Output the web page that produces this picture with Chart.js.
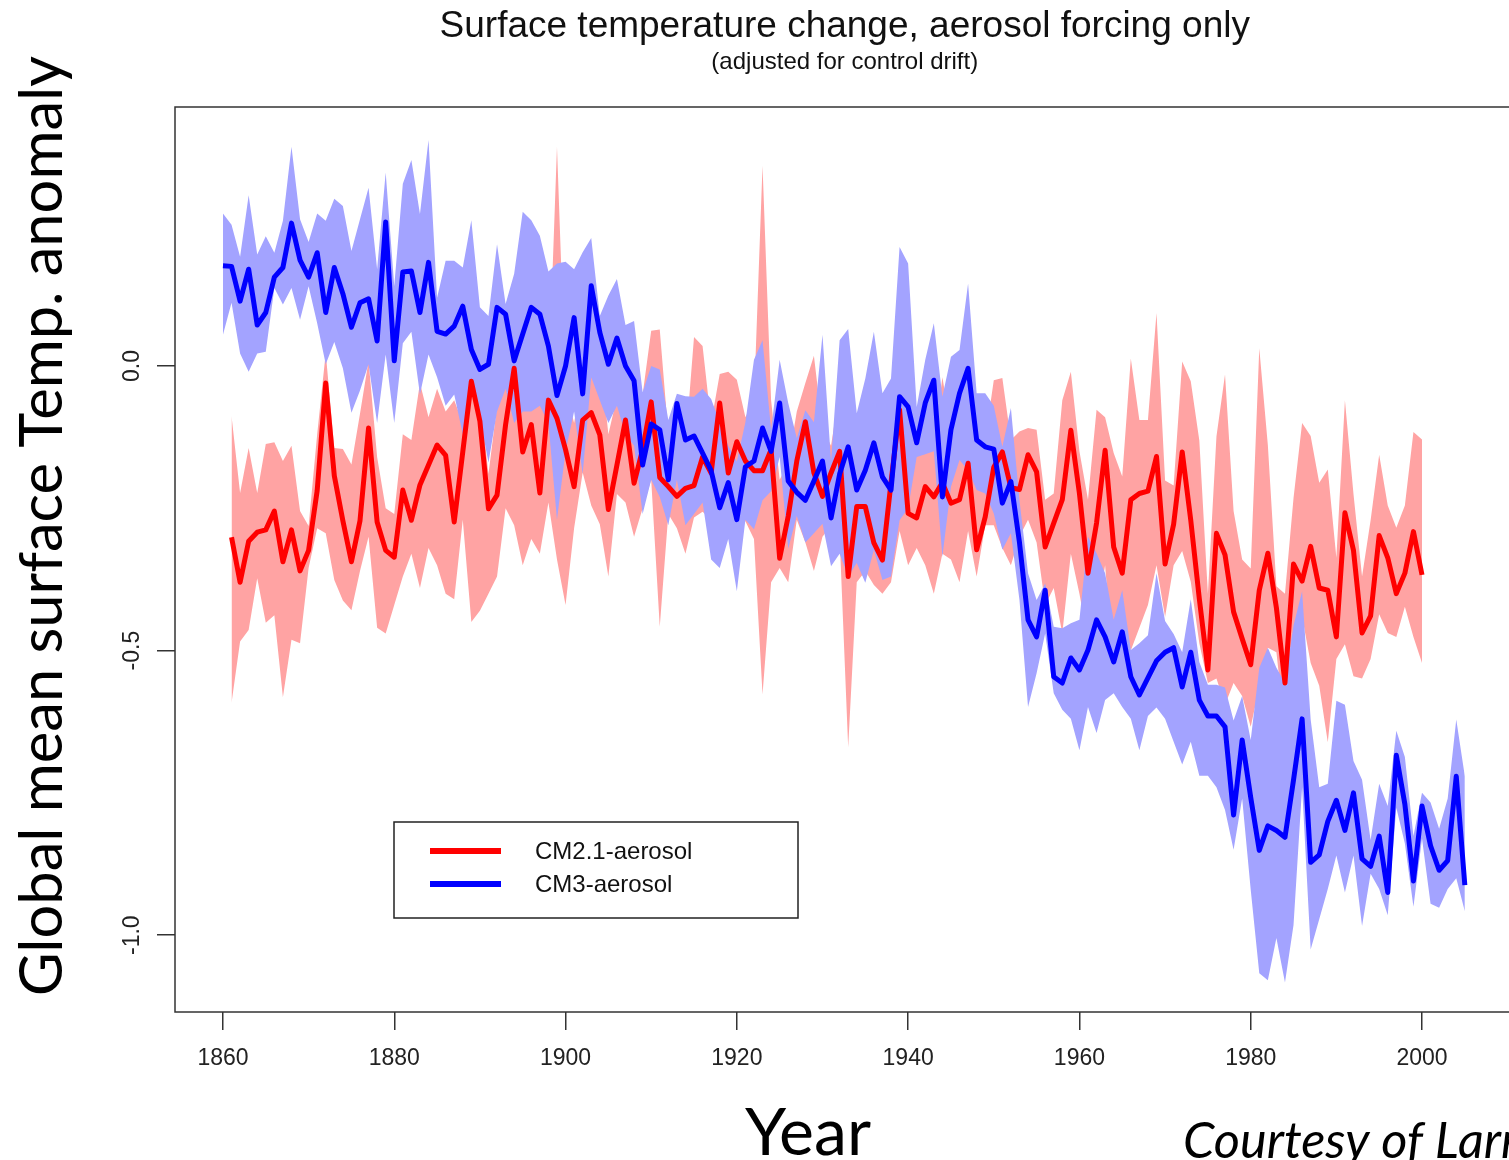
<!DOCTYPE html>
<html>
<head>
<meta charset="utf-8">
<title>Surface temperature change, aerosol forcing only</title>
<script src="https://cdn.jsdelivr.net/npm/chart.js@4.4.1/dist/chart.umd.min.js"></script>
<style>
  html, body { margin: 0; padding: 0; background: #ffffff; overflow: hidden; }
  canvas { display: block; }
</style>
</head>
<body>
<canvas id="chart" width="1530" height="1160"></canvas>
<script>
// ---- Data: global mean surface temperature anomaly, aerosol forcing only ----
// CM3-aerosol ensemble (1860-2005): mean and ensemble envelope
const cm3StartYear = 1860;
const cm3Mean = [
  0.176, 0.175, 0.114, 0.170, 0.072, 0.094, 0.156, 0.173, 0.251, 0.186,
  0.156, 0.199, 0.094, 0.173, 0.127, 0.068, 0.111, 0.118, 0.044, 0.253,
  0.009, 0.165, 0.167, 0.094, 0.182, 0.061, 0.056, 0.070, 0.105, 0.029,
  -0.006, 0.003, 0.103, 0.091, 0.009, 0.056, 0.103, 0.091, 0.035, -0.052,
  0.000, 0.085, -0.049, 0.141, 0.059, 0.003, 0.049, 0.000, -0.026, -0.174,
  -0.102, -0.112, -0.200, -0.066, -0.130, -0.123, -0.153, -0.184, -0.249, -0.205,
  -0.270, -0.177, -0.167, -0.109, -0.150, -0.065, -0.202, -0.222, -0.236, -0.202,
  -0.167, -0.267, -0.190, -0.142, -0.218, -0.183, -0.135, -0.195, -0.218, -0.054,
  -0.072, -0.135, -0.065, -0.025, -0.230, -0.112, -0.048, -0.004, -0.130, -0.142,
  -0.146, -0.241, -0.203, -0.310, -0.446, -0.476, -0.394, -0.546, -0.557, -0.513,
  -0.534, -0.499, -0.446, -0.476, -0.520, -0.467, -0.546, -0.578, -0.548, -0.518,
  -0.503, -0.495, -0.564, -0.503, -0.587, -0.615, -0.615, -0.634, -0.789, -0.657,
  -0.758, -0.851, -0.808, -0.816, -0.828, -0.727, -0.620, -0.872, -0.859, -0.800,
  -0.763, -0.816, -0.750, -0.866, -0.879, -0.826, -0.925, -0.684, -0.770, -0.905,
  -0.773, -0.843, -0.886, -0.869, -0.721, -0.912
];
const cm3Upper = [
  0.268, 0.248, 0.192, 0.300, 0.196, 0.228, 0.199, 0.255, 0.385, 0.258,
  0.218, 0.268, 0.255, 0.294, 0.281, 0.202, 0.258, 0.313, 0.170, 0.340,
  0.140, 0.320, 0.362, 0.267, 0.397, 0.120, 0.185, 0.185, 0.173, 0.256,
  0.103, 0.088, 0.214, 0.109, 0.162, 0.271, 0.256, 0.229, 0.166, 0.180,
  0.183, 0.170, 0.200, 0.225, 0.088, 0.124, 0.153, 0.072, 0.079, -0.046,
  0.000, -0.006, -0.095, -0.049, -0.053, -0.054, -0.040, -0.058, -0.099, -0.140,
  -0.168, -0.099, 0.011, 0.045, -0.112, 0.011, -0.065, -0.127, -0.078, -0.099,
  0.055, -0.168, 0.045, 0.065, -0.083, -0.022, 0.060, -0.048, -0.022, 0.209,
  0.180, -0.072, 0.011, 0.075, -0.054, 0.016, 0.028, 0.145, -0.048, -0.048,
  -0.070, -0.142, -0.074, -0.236, -0.364, -0.411, -0.382, -0.458, -0.461, -0.452,
  -0.446, -0.300, -0.329, -0.364, -0.446, -0.394, -0.499, -0.487, -0.473, -0.364,
  -0.448, -0.471, -0.503, -0.410, -0.520, -0.560, -0.560, -0.565, -0.623, -0.580,
  -0.657, -0.530, -0.495, -0.530, -0.557, -0.456, -0.396, -0.621, -0.740, -0.734,
  -0.588, -0.595, -0.694, -0.727, -0.833, -0.734, -0.773, -0.641, -0.687, -0.826,
  -0.750, -0.767, -0.813, -0.760, -0.621, -0.721
];
const cm3Lower = [
  0.055, 0.111, 0.022, -0.010, 0.022, 0.025, 0.137, 0.108, 0.137, 0.081,
  0.140, 0.075, 0.003, 0.042, -0.004, -0.082, -0.043, 0.003, -0.100, 0.020,
  -0.100, 0.040, 0.060, -0.050, 0.020, -0.020, -0.070, -0.050, -0.120, -0.030,
  -0.090, -0.170, -0.080, -0.040, -0.100, -0.080, -0.080, -0.070, -0.100, -0.270,
  -0.150, -0.080, -0.190, -0.020, -0.060, -0.100, -0.070, -0.120, -0.140, -0.260,
  -0.200, -0.230, -0.280, -0.200, -0.280, -0.260, -0.240, -0.340, -0.355, -0.304,
  -0.396, -0.270, -0.287, -0.236, -0.220, -0.160, -0.321, -0.263, -0.310, -0.294,
  -0.277, -0.352, -0.330, -0.370, -0.346, -0.381, -0.323, -0.376, -0.370, -0.271,
  -0.250, -0.160, -0.155, -0.150, -0.335, -0.212, -0.165, -0.183, -0.218, -0.224,
  -0.259, -0.323, -0.294, -0.411, -0.599, -0.540, -0.470, -0.575, -0.604, -0.620,
  -0.675, -0.599, -0.645, -0.587, -0.575, -0.599, -0.620, -0.675, -0.615, -0.600,
  -0.620, -0.660, -0.700, -0.660, -0.720, -0.720, -0.740, -0.780, -0.850, -0.760,
  -0.920, -1.067, -1.079, -1.005, -1.083, -0.982, -0.740, -1.025, -0.972, -0.919,
  -0.860, -0.925, -0.860, -0.984, -0.892, -0.919, -0.965, -0.776, -0.839, -0.950,
  -0.830, -0.945, -0.952, -0.919, -0.900, -0.958
];

// CM2.1-aerosol ensemble (1861-2000): mean and ensemble envelope
const cm21StartYear = 1861;
const cm21Mean = [
  -0.301, -0.380, -0.308, -0.292, -0.288, -0.255, -0.344, -0.288, -0.360,
  -0.324, -0.219, -0.030, -0.193, -0.272, -0.344, -0.272, -0.109, -0.274, -0.324,
  -0.336, -0.218, -0.271, -0.209, -0.174, -0.139, -0.157, -0.274, -0.151, -0.027,
  -0.097, -0.251, -0.227, -0.103, -0.004, -0.151, -0.103, -0.223, -0.060, -0.092,
  -0.147, -0.212, -0.095, -0.082, -0.121, -0.252, -0.174, -0.095, -0.206, -0.147,
  -0.063, -0.196, -0.212, -0.229, -0.215, -0.210, -0.160, -0.188, -0.065, -0.188,
  -0.133, -0.167, -0.184, -0.184, -0.147, -0.338, -0.264, -0.167, -0.098, -0.188,
  -0.229, -0.188, -0.150, -0.370, -0.247, -0.247, -0.311, -0.341, -0.205, -0.077,
  -0.259, -0.267, -0.212, -0.230, -0.205, -0.241, -0.235, -0.171, -0.323, -0.265,
  -0.178, -0.151, -0.214, -0.217, -0.156, -0.186, -0.318, -0.276, -0.235, -0.113,
  -0.224, -0.364, -0.276, -0.148, -0.318, -0.364, -0.235, -0.224, -0.220, -0.159,
  -0.348, -0.278, -0.151, -0.271, -0.409, -0.534, -0.294, -0.332, -0.432, -0.479,
  -0.525, -0.394, -0.329, -0.425, -0.557, -0.348, -0.378, -0.317, -0.390, -0.394,
  -0.476, -0.258, -0.324, -0.469, -0.439, -0.298, -0.337, -0.400, -0.364, -0.291,
  -0.367
];
const cm21Upper = [
  -0.088, -0.223, -0.144, -0.223, -0.137, -0.134, -0.167, -0.140, -0.255,
  -0.281, -0.120, 0.023, -0.144, -0.146, -0.173, -0.084, 0.009, -0.160, -0.250,
  -0.260, -0.120, -0.130, -0.030, -0.090, -0.040, -0.080, -0.060, -0.100, 0.030,
  -0.050, -0.190, -0.070, -0.030, 0.020, -0.080, -0.043, -0.027, -0.036, 0.385,
  -0.040, -0.100, -0.010, 0.029, 0.025, -0.120, -0.055, -0.070, -0.080, -0.050,
  0.062, 0.064, -0.120, -0.100, -0.140, 0.051, 0.035, -0.100, -0.014, -0.010,
  -0.024, -0.090, -0.060, 0.352, -0.060, -0.200, -0.170, -0.080, -0.030, 0.018,
  -0.110, -0.140, -0.044, -0.200, -0.160, -0.170, -0.200, -0.240, -0.130, 0.010,
  -0.140, -0.160, -0.100, -0.140, -0.020, -0.110, -0.120, -0.070, -0.130, -0.130,
  -0.025, -0.021, -0.130, -0.115, -0.109, -0.112, -0.235, -0.224, -0.060, -0.010,
  -0.150, -0.235, -0.077, -0.090, -0.153, -0.194, 0.013, -0.095, -0.095, 0.093,
  -0.201, -0.210, 0.008, -0.027, -0.131, -0.400, -0.124, -0.015, -0.255, -0.340,
  -0.356, 0.031, -0.139, -0.387, -0.400, -0.232, -0.100, -0.123, -0.205, -0.182,
  -0.337, -0.060, -0.225, -0.370, -0.271, -0.156, -0.245, -0.284, -0.245, -0.116,
  -0.129
];
const cm21Lower = [
  -0.592, -0.484, -0.464, -0.373, -0.451, -0.438, -0.582, -0.481, -0.487,
  -0.355, -0.285, -0.294, -0.376, -0.412, -0.429, -0.360, -0.300, -0.460, -0.470,
  -0.420, -0.370, -0.330, -0.390, -0.320, -0.350, -0.400, -0.410, -0.270, -0.450,
  -0.430, -0.400, -0.370, -0.250, -0.280, -0.350, -0.304, -0.330, -0.240, -0.340,
  -0.420, -0.285, -0.187, -0.245, -0.278, -0.370, -0.225, -0.240, -0.300, -0.250,
  -0.200, -0.458, -0.260, -0.285, -0.330, -0.266, -0.256, -0.270, -0.250, -0.300,
  -0.280, -0.273, -0.304, -0.577, -0.380, -0.355, -0.380, -0.270, -0.310, -0.360,
  -0.300, -0.280, -0.300, -0.670, -0.380, -0.360, -0.385, -0.400, -0.380, -0.290,
  -0.350, -0.320, -0.350, -0.400, -0.330, -0.340, -0.380, -0.290, -0.370, -0.280,
  -0.280, -0.320, -0.350, -0.300, -0.270, -0.310, -0.420, -0.390, -0.470, -0.330,
  -0.400, -0.480, -0.440, -0.350, -0.540, -0.450, -0.500, -0.460, -0.420, -0.350,
  -0.441, -0.350, -0.325, -0.379, -0.487, -0.557, -0.549, -0.595, -0.557, -0.580,
  -0.634, -0.565, -0.495, -0.503, -0.640, -0.487, -0.440, -0.522, -0.562, -0.661,
  -0.515, -0.489, -0.545, -0.549, -0.515, -0.436, -0.469, -0.476, -0.423, -0.476,
  -0.522
];

// Axis ticks
const xTickValues = [1860, 1880, 1900, 1920, 1940, 1960, 1980, 2000];
const yTickValues = [0.0, -0.5, -1.0];
const yTickLabels = ['0.0', '-0.5', '-1.0'];

// Series names
const seriesNames = ['CM2.1-aerosol', 'CM3-aerosol'];

// ---- Helpers ----
function toPoints(startYear, values) {
  return values.map((v, i) => ({ x: startYear + i, y: v }));
}

const RED = '#ff0000';
const BLUE = '#0000ff';
const RED_BAND = '#ffa3a3';
const BLUE_BAND = '#a3a3ff';
const SANS = "'Liberation Sans', Arial, sans-serif";

function bandStyle(color, fillTarget) {
  return {
    borderWidth: 0,
    pointRadius: 0,
    backgroundColor: color,
    fill: fillTarget,
    tension: 0
  };
}

// Size a font so the text spans a given width
function fittedFont(ctx, text, style, family, targetWidth) {
  ctx.font = style + ' 100px ' + family;
  const w = ctx.measureText(text).width;
  return style + ' ' + (100 * targetWidth / w).toFixed(2) + 'px ' + family;
}

// Frame, rotated y labels, legend and annotation texts
const decorations = {
  id: 'decorations',
  afterDraw(chart) {
    const ctx = chart.ctx;
    const ca = chart.chartArea;
    const yScale = chart.scales.y;

    ctx.save();
    // plot frame
    ctx.strokeStyle = '#333333';
    ctx.lineWidth = 1.5;
    ctx.strokeRect(ca.left, ca.top, ca.right - ca.left, ca.bottom - ca.top);

    // y tick labels, rotated like the axis
    ctx.fillStyle = '#222222';
    ctx.font = '23px ' + SANS;
    ctx.textAlign = 'center';
    ctx.textBaseline = 'alphabetic';
    yTickValues.forEach((v, i) => {
      const py = yScale.getPixelForValue(v);
      ctx.save();
      ctx.translate(139, py);
      ctx.rotate(-Math.PI / 2);
      ctx.fillText(yTickLabels[i], 0, 0);
      ctx.restore();
    });

    // titles
    const cx = (ca.left + ca.right) / 2;
    ctx.fillStyle = '#111111';
    ctx.font = '37px ' + SANS;
    ctx.fillText('Surface temperature change, aerosol forcing only', cx, 37);
    ctx.font = '24px ' + SANS;
    ctx.fillText('(adjusted for control drift)', cx, 69);

    // legend
    const lx = 394, ly = 822, lw = 404, lh = 96;
    ctx.fillStyle = '#ffffff';
    ctx.fillRect(lx, ly, lw, lh);
    ctx.strokeStyle = '#222222';
    ctx.lineWidth = 1.5;
    ctx.strokeRect(lx, ly, lw, lh);
    const legendRows = [
      { label: chart.data.datasets[4].label, color: RED, y: 851 },
      { label: chart.data.datasets[5].label, color: BLUE, y: 884 }
    ];
    legendRows.forEach(r => {
      ctx.strokeStyle = r.color;
      ctx.lineWidth = 6;
      ctx.beginPath();
      ctx.moveTo(430, r.y);
      ctx.lineTo(501, r.y);
      ctx.stroke();
      ctx.fillStyle = '#111111';
      ctx.font = '24px ' + SANS;
      ctx.textAlign = 'left';
      ctx.textBaseline = 'middle';
      ctx.fillText(r.label, 535, r.y + 1);
    });

    // large axis captions
    ctx.fillStyle = '#000000';
    ctx.textAlign = 'center';
    ctx.textBaseline = 'alphabetic';
    const yCaption = 'Global mean surface Temp. anomaly';
    ctx.save();
    ctx.translate(62, 526);
    ctx.rotate(-Math.PI / 2);
    ctx.font = fittedFont(ctx, yCaption, 'normal', 'Lato', 940);
    ctx.fillText(yCaption, 0, 0);
    ctx.restore();

    ctx.font = fittedFont(ctx, 'Year', 'normal', 'Lato', 126);
    ctx.fillText('Year', 808, 1155);

    ctx.textAlign = 'left';
    ctx.font = fittedFont(ctx, 'Courtesy of Lar', 'italic', 'Lato', 318);
    ctx.fillText('Courtesy of Larry Horowitz', 1183, 1158);
    ctx.restore();
  }
};

const chart = new Chart(document.getElementById('chart'), {
  type: 'line',
  data: {
    datasets: [
      Object.assign({ label: 'CM2.1 upper', data: toPoints(cm21StartYear, cm21Upper), order: 4 }, bandStyle(RED_BAND, 1)),
      Object.assign({ label: 'CM2.1 lower', data: toPoints(cm21StartYear, cm21Lower), order: 4 }, bandStyle(RED_BAND, false)),
      Object.assign({ label: 'CM3 upper', data: toPoints(cm3StartYear, cm3Upper), order: 3 }, bandStyle(BLUE_BAND, 3)),
      Object.assign({ label: 'CM3 lower', data: toPoints(cm3StartYear, cm3Lower), order: 3 }, bandStyle(BLUE_BAND, false)),
      {
        label: seriesNames[0],
        data: toPoints(cm21StartYear, cm21Mean),
        borderColor: RED,
        borderWidth: 5,
        borderJoinStyle: 'round',
        pointRadius: 0,
        fill: false,
        tension: 0,
        order: 2
      },
      {
        label: seriesNames[1],
        data: toPoints(cm3StartYear, cm3Mean),
        borderColor: BLUE,
        borderWidth: 5,
        borderJoinStyle: 'round',
        pointRadius: 0,
        fill: false,
        tension: 0,
        order: 1
      }
    ]
  },
  options: {
    responsive: false,
    animation: false,
    events: [],
    layout: { padding: { top: 107, left: 0, right: 15.5, bottom: 0 } },
    plugins: {
      legend: { display: false },
      tooltip: { enabled: false },
      title: { display: false }
    },
    scales: {
      x: {
        type: 'linear',
        min: 1854.4,
        max: 2010.8,
        afterBuildTicks: s => { s.ticks = xTickValues.map(v => ({ value: v })); },
        afterFit: s => { s.height = 148; },
        border: { display: false },
        grid: { drawOnChartArea: false, drawTicks: true, tickLength: 18, color: '#333333', lineWidth: 1.5 },
        ticks: {
          autoSkip: false,
          maxRotation: 0,
          minRotation: 0,
          padding: 15,
          color: '#222222',
          font: { family: SANS, size: 23 },
          callback: v => String(v)
        }
      },
      y: {
        type: 'linear',
        min: -1.135,
        max: 0.455,
        afterBuildTicks: s => { s.ticks = yTickValues.map(v => ({ value: v })); },
        afterFit: s => { s.width = 175; },
        border: { display: false },
        grid: { drawOnChartArea: false, drawTicks: true, tickLength: 18, color: '#333333', lineWidth: 1.5 },
        ticks: { display: false }
      }
    }
  },
  plugins: [decorations]
});
</script>
</body>
</html>
